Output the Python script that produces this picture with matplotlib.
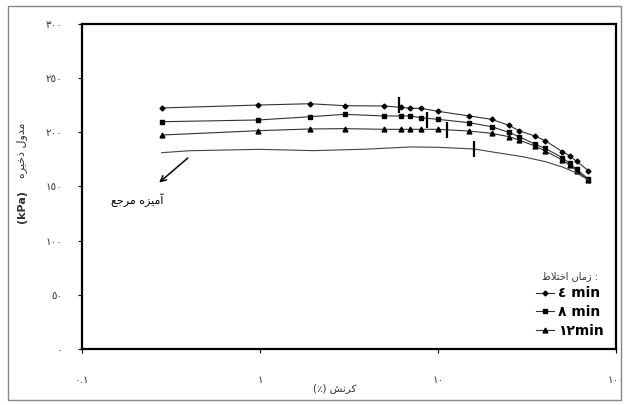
import matplotlib
matplotlib.use('Agg')
import matplotlib.pyplot as plt
from matplotlib.patches import Rectangle

# strain (%) and storage modulus (kPa)
strain = [0.28, 0.98, 1.9, 3, 5, 6.2, 7, 8, 10, 15, 20, 25, 28.5, 35, 40, 50, 55, 60, 70]
mod_4min = [222.5, 225.2, 226.4, 224.6, 224.3, 223.1, 222.2, 222.2, 219.4, 215.1, 212.0,
            206.5, 201.5, 196.6, 192.3, 182.1, 178.2, 173.3, 164.6]
mod_8min = [209.8, 211.4, 214.4, 216.6, 215.1, 215.1, 215.1, 213.5, 212.0, 208.9, 205.2,
            200.0, 196.0, 189.2, 185.2, 176.6, 171.4, 165.8, 156.9]
mod_12min = [197.5, 201.5, 203.1, 203.4, 202.8, 202.8, 202.8, 202.8, 202.8, 201.2, 199.1,
             196.0, 192.9, 187.4, 182.8, 174.5, 169.6, 164.6, 156.0]

strain_ref = [0.28, 0.4, 1, 2, 4, 7, 10, 16, 20, 30, 40, 50, 60, 70]
mod_ref = [181.2, 183.0, 184.3, 183.1, 184.5, 186.5, 186.2, 184.6, 182.0, 177.5, 173.0,
           168.0, 162.5, 156.0]

# end of linear region markers
crit_x = [6.0, 8.7, 11.2, 16.0]
crit_y = [225.5, 211.4, 202.0, 184.6]

y_ticks = [0, 50, 100, 150, 200, 250, 300]
x_ticks = [0.1, 1, 10, 100]
x_tick_text = ['0.1', '1', '10', '100']
legend_labels = ['4 min', '8 min', '12min']


# --- minimal persian shaping (matplotlib has no bidi / joining) ---
FORMS = {
    'ا': ('\uFE8D', '\uFE8E', None, None),
    'آ': ('\uFE81', '\uFE82', None, None),
    'د': ('\uFEA9', '\uFEAA', None, None),
    'ذ': ('\uFEAB', '\uFEAC', None, None),
    'ر': ('\uFEAD', '\uFEAE', None, None),
    'ز': ('\uFEAF', '\uFEB0', None, None),
    'و': ('\uFEED', '\uFEEE', None, None),
    'م': ('\uFEE1', '\uFEE2', '\uFEE3', '\uFEE4'),
    'ل': ('\uFEDD', '\uFEDE', '\uFEDF', '\uFEE0'),
    'خ': ('\uFEA5', '\uFEA6', '\uFEA7', '\uFEA8'),
    'ی': ('\uFBFC', '\uFBFD', '\uFBFE', '\uFBFF'),
    'ه': ('\uFEE9', '\uFEEA', '\uFEEB', '\uFEEC'),
    'ک': ('\uFB8E', '\uFB8F', '\uFB90', '\uFB91'),
    'ن': ('\uFEE5', '\uFEE6', '\uFEE7', '\uFEE8'),
    'ش': ('\uFEB5', '\uFEB6', '\uFEB7', '\uFEB8'),
    'ج': ('\uFE9D', '\uFE9E', '\uFE9F', '\uFEA0'),
    'ع': ('\uFEC9', '\uFECA', '\uFECB', '\uFECC'),
    'ت': ('\uFE95', '\uFE96', '\uFE97', '\uFE98'),
    'ط': ('\uFEC1', '\uFEC2', '\uFEC3', '\uFEC4'),
}


def shape_word(word):
    out = []
    i = 0
    n = len(word)
    while i < n:
        c = word[i]
        prev_joins = i > 0 and word[i - 1] in FORMS and FORMS[word[i - 1]][2] is not None
        if c == 'ل' and i + 1 < n and word[i + 1] == 'ا':
            out.append('\uFEFC' if prev_joins else '\uFEFB')
            i += 2
            continue
        f = FORMS[c]
        next_joins = f[2] is not None and i + 1 < n and word[i + 1] in FORMS
        if prev_joins and next_joins:
            out.append(f[3])
        elif prev_joins:
            out.append(f[1])
        elif next_joins:
            out.append(f[2])
        else:
            out.append(f[0])
        i += 1
    return ''.join(reversed(out))


def fa(text):
    # visual order for a right-to-left run of words
    return ' '.join(shape_word(w) for w in reversed(text.split()))


def ar_digits(s):
    return s.translate(str.maketrans('0123456789', '٠١٢٣٤٥٦٧٨٩'))


plt.rcParams['font.family'] = ['DejaVu Sans']

fig = plt.figure(figsize=(6.27, 4.05), dpi=100)
ax = fig.add_axes([82 / 627, 56 / 405, 534 / 627, 325 / 405])

line_kw = dict(color='#333333', lw=0.8, mfc='black', mec='black')
l4, = ax.plot(strain, mod_4min, marker='D', ms=2.5, **line_kw)
l8, = ax.plot(strain, mod_8min, marker='s', ms=3.2, **line_kw)
l12, = ax.plot(strain, mod_12min, marker='^', ms=3.5, **line_kw)
ax.plot(strain_ref, mod_ref, color='#444444', lw=0.8)

ax.plot(crit_x, crit_y, ls='none', marker='|', ms=11, mew=1.6, color='black')

ax.set_xscale('log')
ax.set_xlim(0.1, 100)
ax.set_ylim(0, 300)
ax.set_xticks(x_ticks)
ax.set_xticklabels([ar_digits(t) for t in x_tick_text], fontsize=7.5, color='#333333')
ax.minorticks_off()
ax.set_yticks(y_ticks)
ax.set_yticklabels([ar_digits(str(v)) for v in y_ticks], fontsize=7.5, color='#333333')
ax.tick_params(axis='x', direction='out', length=3, width=0.8, pad=16)
ax.tick_params(axis='y', direction='out', length=3, width=0.8, pad=11)
for sp in ax.spines.values():
    sp.set_linewidth(1.6)

# reference mix annotation
ax.annotate('', xy=(0.264, 152), xytext=(0.404, 178),
            arrowprops=dict(arrowstyle='->', lw=1.1, color='black'))
ax.text(0.204, 137.5, fa('آمیزه مرجع'), ha='center', va='center', fontsize=8)

leg = ax.legend([l4, l8, l12], [ar_digits(s) for s in legend_labels],
                loc='lower right', bbox_to_anchor=(1.0, -0.005), frameon=False,
                handlelength=1.3, handletextpad=0.3, labelspacing=0.35,
                prop={'size': 10, 'weight': 'bold'},
                title=fa('زمان اختلاط') + ' :', title_fontsize=7)
leg.get_title().set_color('#333333')

# axis titles
fig.text(335 / 627, 1 - 388 / 405, '(٪) ' + shape_word('کرنش'),
         ha='center', va='center', fontsize=7.5, color='#333333')
fig.text(22 / 627, 1 - 150 / 405, fa('مدول ذخیره'), rotation=90,
         ha='center', va='center', fontsize=8, color='#333333')
fig.text(22 / 627, 1 - 207 / 405, '(kPa)', rotation=90, ha='center', va='center',
         fontsize=8, fontweight='bold', color='#333333')

# outer frame
fig.patches.append(Rectangle((8 / 627, 5 / 405), 613 / 627, 394 / 405,
                             transform=fig.transFigure, fill=False,
                             edgecolor='#888888', lw=1))

fig.savefig('out.png', dpi=100)
